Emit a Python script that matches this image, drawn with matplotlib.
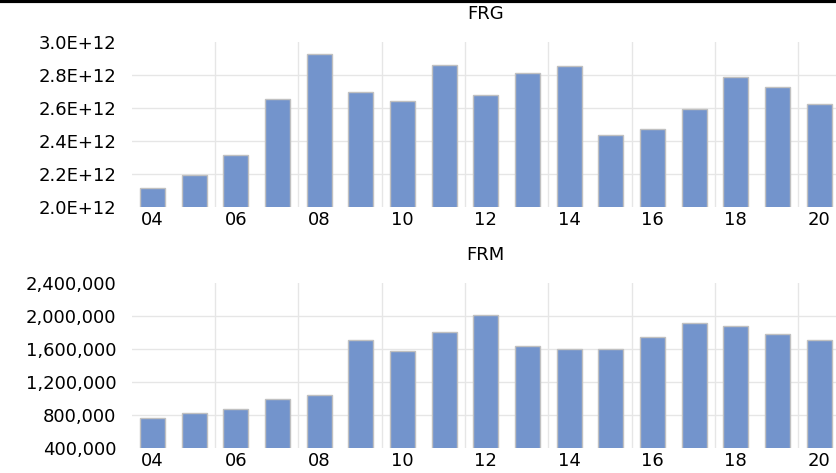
import matplotlib.pyplot as plt
import matplotlib.ticker as mticker
from matplotlib.lines import Line2D

years = list(range(2004, 2021))
frg = [2.115e12, 2.196e12, 2.319e12, 2.658e12, 2.929e12, 2.699e12, 2.642e12,
       2.862e12, 2.682e12, 2.812e12, 2.855e12, 2.436e12, 2.473e12, 2.596e12,
       2.788e12, 2.727e12, 2.628e12]
frm = [764000, 824000, 876000, 994000, 1042000, 1709000, 1576000, 1806000,
       2012000, 1636000, 1607000, 1600000, 1745000, 1919000, 1879000,
       1782000, 1713000]
tick_years = years[::2]
tick_labels = ["%02d" % (y % 100) for y in tick_years]

bar_color = "#7394cc"
edge_color = "#c0c0c0"
grid_color = "#e6e6e6"

plt.rcParams["font.family"] = ["DejaVu Sans"]

fig = plt.figure(figsize=(8.37, 4.73), dpi=100)
ax1 = fig.add_axes([0.1573, 0.5617, 0.8462, 0.3489])
ax2 = fig.add_axes([0.1573, 0.0522, 0.8462, 0.3488])


def style(ax, title, ylim, yticks, fmt):
    ax.set_xlim(2003.5, 2020.5)
    ax.set_ylim(*ylim)
    ax.set_yticks(yticks)
    ax.yaxis.set_major_formatter(fmt)
    ax.set_xticks(tick_years)
    ax.set_xticklabels(tick_labels)
    ax.set_xticks([y + 1.5 for y in tick_years[:-1]], minor=True)
    ax.grid(False)
    ax.xaxis.grid(True, which="minor", color=grid_color, linewidth=1)
    # horizontal gridlines only between bottom and top
    for v in yticks[1:-1]:
        ax.axhline(v, color=grid_color, linewidth=1, zorder=0)
    ax.set_axisbelow(True)
    for s in ax.spines.values():
        s.set_visible(False)
    ax.tick_params(axis="both", which="both", length=0, labelsize=13)
    ax.tick_params(axis="y", pad=11)
    ax.tick_params(axis="x", pad=3)
    ax.set_title(title, fontsize=13, pad=17)


ax1.bar(years, frg, width=0.6, color=bar_color, edgecolor=edge_color,
        linewidth=1, zorder=2)
style(ax1, "FRG", (2.0e12, 3.0e12), [2.0e12 + i * 0.2e12 for i in range(6)],
      mticker.FuncFormatter(lambda v, p: "%.1fE+12" % (v / 1e12)))

ax2.bar(years, frm, width=0.6, color=bar_color, edgecolor=edge_color,
        linewidth=1, zorder=2)
style(ax2, "FRM", (400000, 2400000), list(range(400000, 2400001, 400000)),
      mticker.FuncFormatter(lambda v, p: "{:,.0f}".format(v)))

fig.add_artist(Line2D([0, 1], [0.998, 0.998], transform=fig.transFigure,
                      color="black", linewidth=3))

fig.savefig("out.png", dpi=100)
